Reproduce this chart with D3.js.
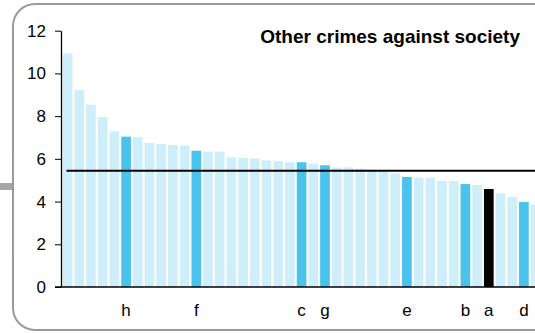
<!DOCTYPE html>
<html>
<head>
<meta charset="utf-8">
<script src="https://cdn.jsdelivr.net/npm/d3@7"></script>
<style>
html, body { margin: 0; padding: 0; background: #fff; overflow: hidden; }
svg { display: block; font-family: "Liberation Sans", Arial, sans-serif; }
</style>
</head>
<body>
<svg id="chart" width="535" height="333"></svg>
<script>
// Data
const values = [10.94, 9.22, 8.53, 7.96, 7.29, 7.04, 7.01, 6.74, 6.69, 6.65, 6.62,
  6.38, 6.34, 6.34, 6.07, 6.04, 6.01, 5.93, 5.90, 5.84, 5.84, 5.77, 5.70, 5.60,
  5.60, 5.54, 5.49, 5.43, 5.32, 5.15, 5.12, 5.12, 4.96, 4.96, 4.82, 4.78, 4.59,
  4.39, 4.21, 3.98, 3.85];
const labels = ["", "", "", "", "", "h", "", "", "", "", "",
  "f", "", "", "", "", "", "", "", "", "c", "", "g", "",
  "", "", "", "", "", "e", "", "", "", "", "b", "", "a",
  "", "", "d", ""];
const meanValue = 5.44;
const yTicks = [0, 2, 4, 6, 8, 10, 12];
const title = "Other crimes against society";

const svg = d3.select("#chart");

// Frame
svg.append("rect")
  .attr("x", 13).attr("y", 4)
  .attr("width", 560).attr("height", 326)
  .attr("rx", 22).attr("ry", 22)
  .attr("fill", "none").attr("stroke", "#9a9a9a").attr("stroke-width", 2);
svg.append("rect")
  .attr("x", 0).attr("y", 183)
  .attr("width", 12).attr("height", 7)
  .attr("fill", "#a6a6a6");

const idx = values.map((d, i) => i);
const x = d3.scaleBand().domain(idx).range([61, 542.2])
  .paddingInner(0.171).paddingOuter(0.15);
const y = d3.scaleLinear().domain([0, 12]).range([287, 30.7]);

function color(i) {
  const l = labels[i];
  if (l === "a") return "#000000";
  if (l) return "#4ac3ec";
  return "#ceeefa";
}

svg.append("g").selectAll("rect").data(idx).join("rect")
  .attr("x", i => x(i))
  .attr("y", i => y(values[i]))
  .attr("width", x.bandwidth())
  .attr("height", i => y(0) - y(values[i]))
  .attr("fill", i => color(i));

// Mean line
svg.append("line")
  .attr("x1", 66.5).attr("x2", 540)
  .attr("y1", y(meanValue)).attr("y2", y(meanValue))
  .attr("stroke", "#000").attr("stroke-width", 2);

// Y axis
const yAxis = d3.axisLeft(y).tickValues(yTicks).tickSize(6).tickPadding(9).tickSizeOuter(0);
const gy = svg.append("g").attr("transform", "translate(61,0)").call(yAxis);
gy.select(".domain").attr("stroke", "#000").attr("stroke-width", 1.3);
gy.selectAll(".tick line").attr("stroke", "#000").attr("stroke-width", 1);
gy.selectAll(".tick text").attr("font-size", 17).attr("fill", "#000")
  .attr("font-family", "Liberation Sans, Arial, sans-serif");

// X baseline
svg.append("line")
  .attr("x1", 55).attr("x2", 540)
  .attr("y1", y(0)).attr("y2", y(0))
  .attr("stroke", "#000").attr("stroke-width", 1.5);

// Category labels
svg.append("g").selectAll("text").data(idx.filter(i => labels[i])).join("text")
  .attr("x", i => x(i) + x.bandwidth() / 2)
  .attr("y", 316)
  .attr("text-anchor", "middle")
  .attr("font-size", 17)
  .attr("fill", "#000")
  .text(i => labels[i]);

// Title
svg.append("text")
  .attr("x", 520).attr("y", 43)
  .attr("text-anchor", "end")
  .attr("font-size", 19)
  .attr("font-weight", "bold")
  .attr("fill", "#000")
  .text(title);
</script>
</body>
</html>
